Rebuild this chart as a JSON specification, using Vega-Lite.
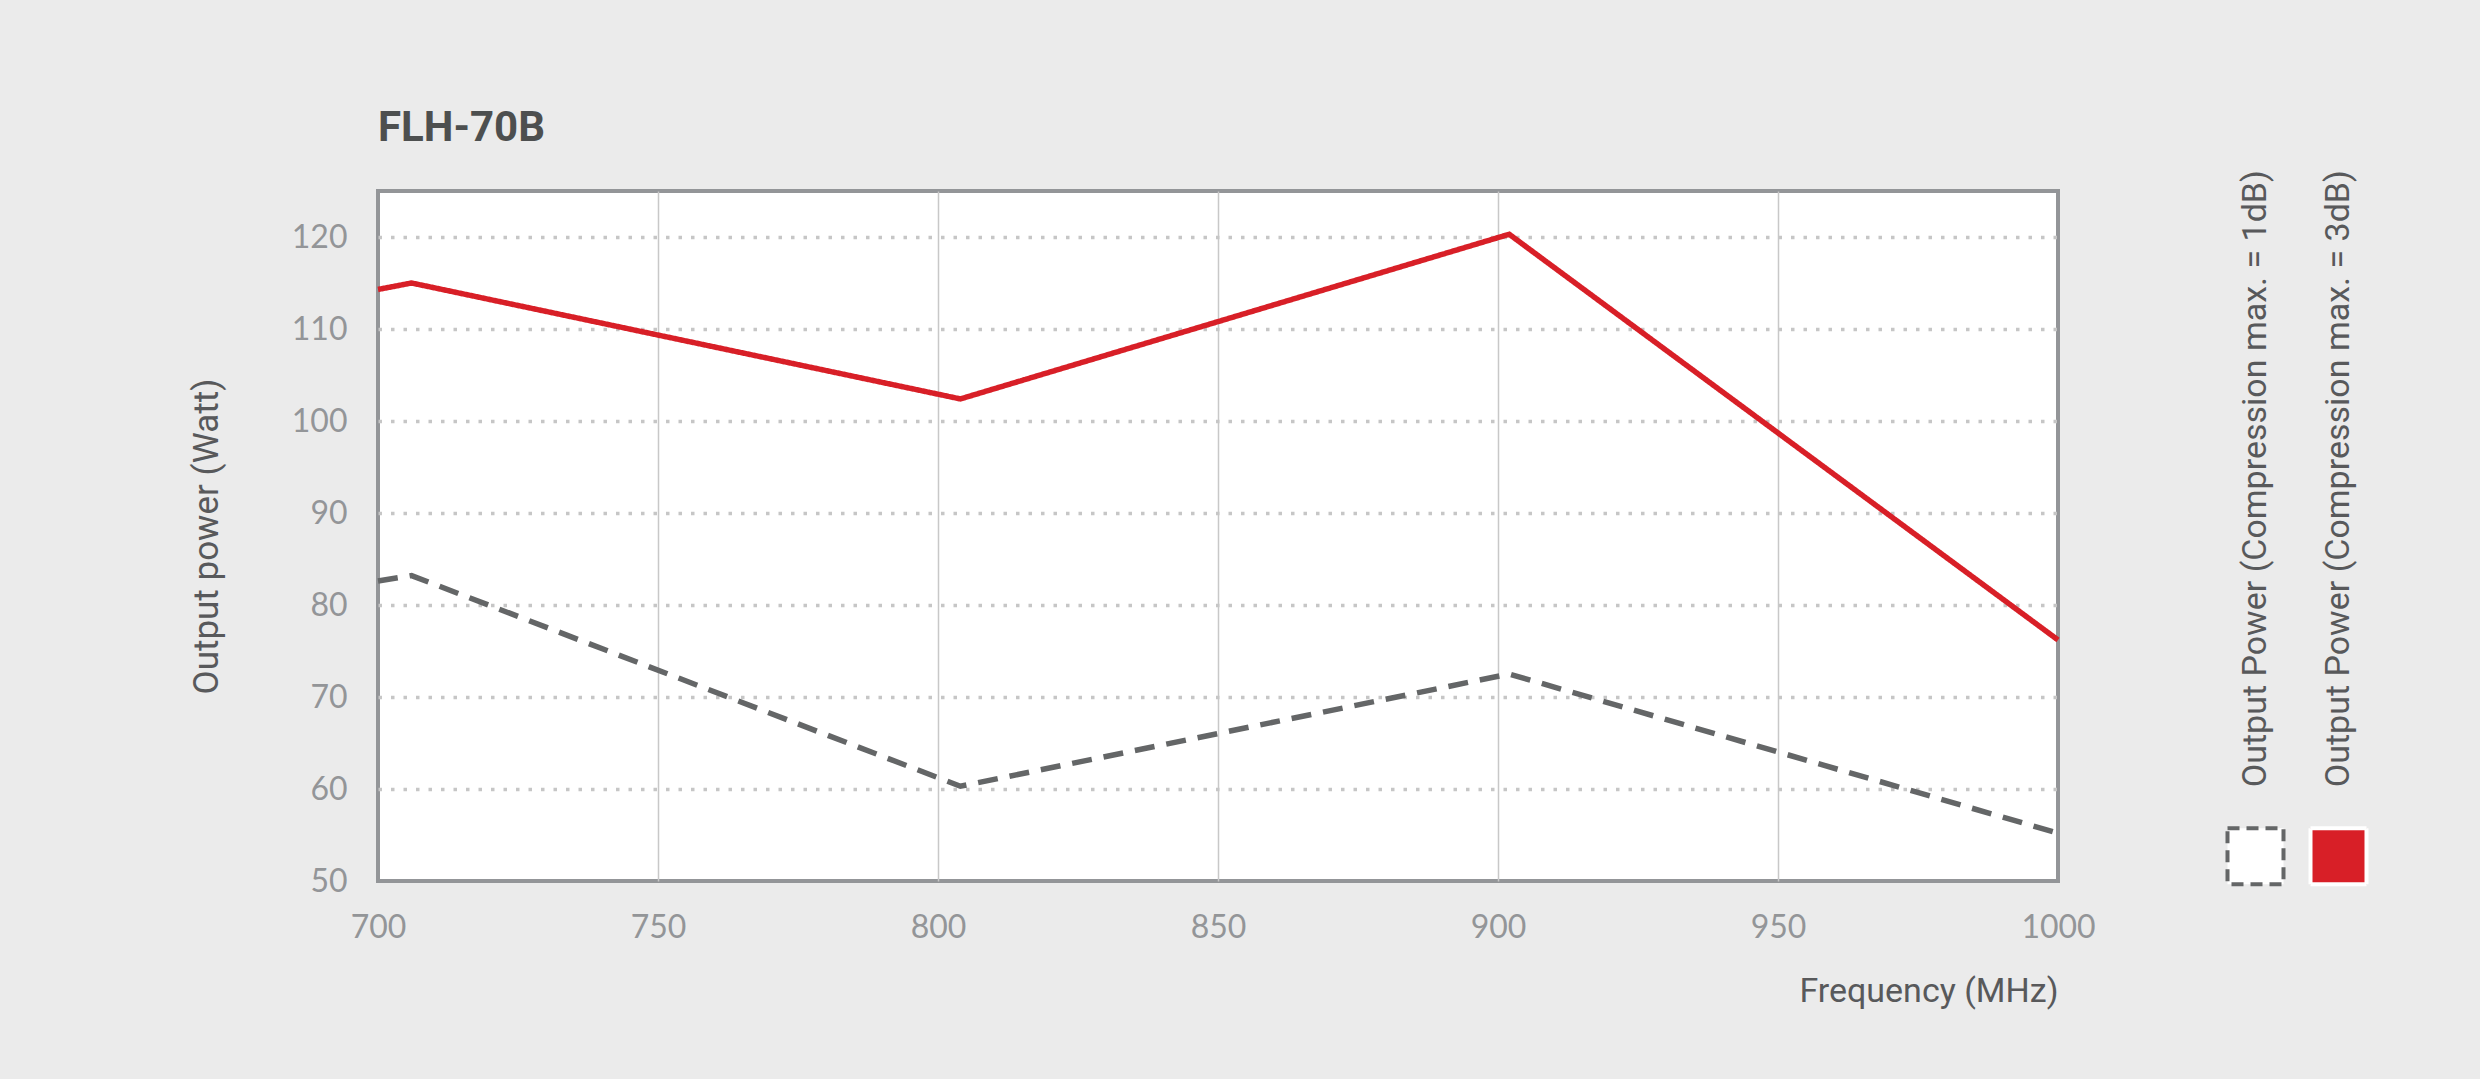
{
  "$schema": "https://vega.github.io/schema/vega-lite/v6.json",
  "background": "#ebebeb",
  "padding": {"left": 187, "top": 105, "right": 105, "bottom": 70},
  "bounds": "flush",
  "spacing": 156,
  "config": {
    "view": {"stroke": null},
    "font": "Roboto"
  },
  "datasets": {
    "power": [
      {"series": "Output Power (Compression max. = 1dB)", "frequency": 700, "watt": 82.6},
      {"series": "Output Power (Compression max. = 1dB)", "frequency": 706, "watt": 83.2},
      {"series": "Output Power (Compression max. = 1dB)", "frequency": 804, "watt": 60.3},
      {"series": "Output Power (Compression max. = 1dB)", "frequency": 902, "watt": 72.5},
      {"series": "Output Power (Compression max. = 1dB)", "frequency": 1000, "watt": 55.2},
      {"series": "Output Power (Compression max. = 3dB)", "frequency": 700, "watt": 114.3},
      {"series": "Output Power (Compression max. = 3dB)", "frequency": 706, "watt": 115.0},
      {"series": "Output Power (Compression max. = 3dB)", "frequency": 804, "watt": 102.4},
      {"series": "Output Power (Compression max. = 3dB)", "frequency": 902, "watt": 120.3},
      {"series": "Output Power (Compression max. = 3dB)", "frequency": 1000, "watt": 76.2}
    ],
    "legend": [
      {"series": "Output Power (Compression max. = 1dB)"},
      {"series": "Output Power (Compression max. = 3dB)"}
    ]
  },
  "hconcat": [
    {
      "title": {
        "text": "FLH-70B",
        "anchor": "start",
        "frame": "group",
        "offset": 41,
        "font": "Roboto",
        "fontSize": 42,
        "fontWeight": "bold",
        "color": "#4d4f4f"
      },
      "width": 1680,
      "height": 690,
      "view": {"fill": "#ffffff", "stroke": "#939598", "strokeWidth": 4},
      "data": {"name": "power"},
      "mark": {"type": "line", "strokeWidth": 5.5},
      "encoding": {
        "x": {
          "field": "frequency",
          "type": "quantitative",
          "scale": {"domain": [700, 1000], "nice": false, "zero": false},
          "axis": {
            "title": "Frequency (MHz)",
            "values": [700, 750, 800, 850, 900, 950, 1000],
            "format": "d",
            "domain": false,
            "ticks": false,
            "grid": true,
            "gridColor": "#c8c8c8",
            "gridWidth": 1.5,
            "gridOpacity": {"condition": {"test": "datum.value === 700 || datum.value === 1000", "value": 0}, "value": 1},
            "labelFont": "Lato",
            "labelFontSize": 32,
            "labelColor": "#939598",
            "labelPadding": 31,
            "labelFlush": false,
            "titleAnchor": "end",
            "titleAlign": "right",
            "titleBaseline": "alphabetic",
            "titleFont": "Roboto",
            "titleFontSize": 34,
            "titleFontWeight": "normal",
            "titleColor": "#58595b",
            "titlePadding": 57,
            "minExtent": 63,
            "maxExtent": 63
          }
        },
        "y": {
          "field": "watt",
          "type": "quantitative",
          "scale": {"domain": [50, 125], "nice": false, "zero": false},
          "axis": {
            "title": "Output power (Watt)",
            "values": [50, 60, 70, 80, 90, 100, 110, 120],
            "domain": false,
            "ticks": false,
            "grid": true,
            "gridColor": "#c6c6c6",
            "gridWidth": 3.5,
            "gridDash": [3.5, 9],
            "gridOpacity": {"condition": {"test": "datum.value === 50", "value": 0}, "value": 1},
            "labelFont": "Lato",
            "labelFontSize": 32,
            "labelColor": "#939598",
            "labelPadding": 31,
            "titleBaseline": "alphabetic",
            "titleFont": "Roboto",
            "titleFontSize": 35,
            "titleFontWeight": "normal",
            "titleColor": "#58595b",
            "titlePadding": 78,
            "minExtent": 83,
            "maxExtent": 83
          }
        },
        "color": {
          "field": "series",
          "type": "nominal",
          "scale": {
            "domain": ["Output Power (Compression max. = 1dB)", "Output Power (Compression max. = 3dB)"],
            "range": ["#646667", "#d81f27"]
          },
          "legend": null
        },
        "strokeDash": {
          "field": "series",
          "type": "nominal",
          "scale": {
            "domain": ["Output Power (Compression max. = 1dB)", "Output Power (Compression max. = 3dB)"],
            "range": [[20, 12], [1, 0]]
          },
          "legend": null
        }
      }
    },
    {
      "width": 166,
      "height": 690,
      "data": {"name": "legend"},
      "encoding": {
        "x": {
          "field": "series",
          "type": "nominal",
          "scale": {
            "type": "band",
            "paddingInner": 0,
            "paddingOuter": 0,
            "domain": ["Output Power (Compression max. = 1dB)", "Output Power (Compression max. = 3dB)"]
          },
          "axis": null
        }
      },
      "layer": [
        {
          "mark": {"type": "point", "shape": "square", "size": 3136, "filled": true, "strokeWidth": 4, "opacity": 1},
          "encoding": {
            "y": {"datum": 3.6, "type": "quantitative", "scale": {"domain": [0, 100], "nice": false, "zero": false}, "axis": null},
            "fill": {"condition": {"test": "datum.series === 'Output Power (Compression max. = 1dB)'", "value": "#ffffff"}, "value": "#d81f27"},
            "stroke": {"condition": {"test": "datum.series === 'Output Power (Compression max. = 1dB)'", "value": "#646667"}, "value": "#ffffff"},
            "strokeDash": {"condition": {"test": "datum.series === 'Output Power (Compression max. = 1dB)'", "value": [12, 7]}, "value": [1, 0]}
          }
        },
        {
          "mark": {"type": "text", "angle": 270, "align": "left", "baseline": "middle", "font": "Roboto", "fontSize": 34, "color": "#58595b"},
          "encoding": {
            "y": {"datum": 13.6, "type": "quantitative"},
            "text": {"field": "series", "type": "nominal"}
          }
        }
      ]
    }
  ]
}
